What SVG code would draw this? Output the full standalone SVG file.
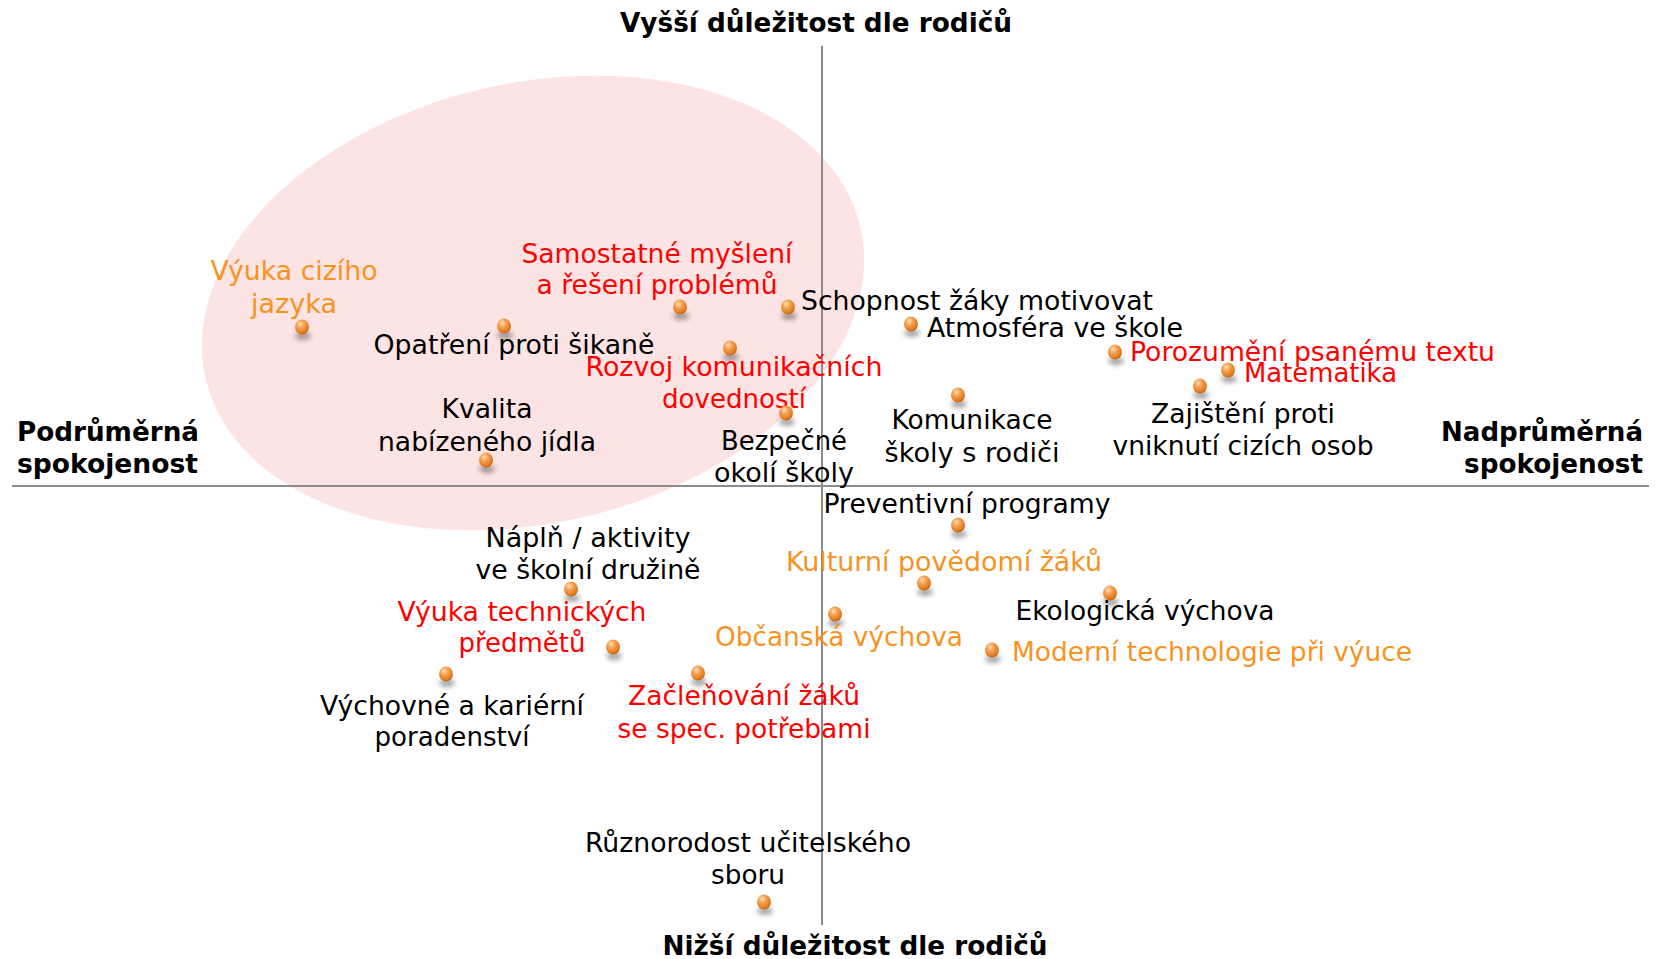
<svg xmlns="http://www.w3.org/2000/svg" width="1659" height="959" viewBox="0 0 1659 959">
<defs>
<radialGradient id="ball" cx="0.38" cy="0.3" r="0.75">
<stop offset="0" stop-color="#FFE2B8"/>
<stop offset="0.35" stop-color="#F5A356"/>
<stop offset="0.8" stop-color="#E07A1E"/>
<stop offset="1" stop-color="#B35A0E"/>
</radialGradient>
<filter id="blur" x="-1" y="-1" width="3" height="3"><feGaussianBlur stdDeviation="2.5"/></filter>
<g id="dot">
<ellipse cx="1" cy="9" rx="8" ry="4" fill="#000" opacity="0.35" filter="url(#blur)"/>
<ellipse cx="0" cy="0" rx="7" ry="7.5" fill="url(#ball)"/>
</g>
</defs>
<style>
text{font-family:"DejaVu Sans","Verdana",sans-serif;font-size:26px;lengthAdjust:spacingAndGlyphs}
.k{fill:#000}
.r{fill:#FF0000}
.o{fill:#F7931E}
.m{text-anchor:middle}
.b{font-weight:bold;fill:#000}
.ax{stroke:#8C8C8C;stroke-width:2}
</style>
<rect width="1659" height="959" fill="#fff"/>
<ellipse id="zone" cx="533" cy="303" rx="336" ry="220" transform="rotate(-13 533 303)" fill="#FCE4E4"/>
<g id="connectors">
<line class="ax" x1="822" y1="46" x2="822" y2="925"/>
<line class="ax" x1="12" y1="486" x2="1649" y2="486"/>
</g>
<g id="axis-labels">
<text class="b m" x="816" y="32" textLength="392" lengthAdjust="spacingAndGlyphs">Vyšší důležitost dle rodičů</text>
<text class="b m" x="855" y="955" textLength="385" lengthAdjust="spacingAndGlyphs">Nižší důležitost dle rodičů</text>
<text class="b" x="17" y="441" textLength="182" lengthAdjust="spacingAndGlyphs">Podrůměrná</text>
<text class="b" x="17" y="473" textLength="181" lengthAdjust="spacingAndGlyphs">spokojenost</text>
<text class="b" x="1643" y="441" text-anchor="end" textLength="202" lengthAdjust="spacingAndGlyphs">Nadprůměrná</text>
<text class="b" x="1643" y="473" text-anchor="end" textLength="179" lengthAdjust="spacingAndGlyphs">spokojenost</text>
</g>
<g id="n1"><use href="#dot" x="302" y="327"/><text class="o m" x="294" y="280" textLength="167" lengthAdjust="spacingAndGlyphs">Výuka cizího</text><text class="o m" x="294" y="313" textLength="86" lengthAdjust="spacingAndGlyphs">jazyka</text></g>
<g id="n2"><use href="#dot" x="504" y="326"/><text class="k m" x="514" y="354" textLength="281" lengthAdjust="spacingAndGlyphs">Opatření proti šikaně</text></g>
<g id="n3"><use href="#dot" x="680" y="307"/><text class="r m" x="657" y="263" textLength="271" lengthAdjust="spacingAndGlyphs">Samostatné myšlení</text><text class="r m" x="657" y="294" textLength="241" lengthAdjust="spacingAndGlyphs">a řešení problémů</text></g>
<g id="n4"><use href="#dot" x="788" y="307"/><text class="k" x="801" y="310" textLength="352" lengthAdjust="spacingAndGlyphs">Schopnost žáky motivovat</text></g>
<g id="n5"><use href="#dot" x="911" y="324"/><text class="k" x="927" y="337" textLength="256" lengthAdjust="spacingAndGlyphs">Atmosféra ve škole</text></g>
<g id="n6"><use href="#dot" x="730" y="348"/><text class="r m" x="734" y="376" textLength="297" lengthAdjust="spacingAndGlyphs">Rozvoj komunikačních</text><text class="r m" x="734" y="408" textLength="144" lengthAdjust="spacingAndGlyphs">dovedností</text></g>
<g id="n7"><use href="#dot" x="786" y="413"/><text class="k m" x="784" y="450" textLength="126" lengthAdjust="spacingAndGlyphs">Bezpečné</text><text class="k m" x="784" y="482" textLength="140" lengthAdjust="spacingAndGlyphs">okolí školy</text></g>
<g id="n8"><use href="#dot" x="486" y="460"/><text class="k m" x="487" y="418" textLength="91" lengthAdjust="spacingAndGlyphs">Kvalita</text><text class="k m" x="487" y="451" textLength="218" lengthAdjust="spacingAndGlyphs">nabízeného jídla</text></g>
<g id="n9"><use href="#dot" x="958" y="395"/><text class="k m" x="972" y="429" textLength="161" lengthAdjust="spacingAndGlyphs">Komunikace</text><text class="k m" x="972" y="462" textLength="175" lengthAdjust="spacingAndGlyphs">školy s rodiči</text></g>
<g id="n10"><use href="#dot" x="1115" y="352"/><text class="r" x="1130" y="361" textLength="365" lengthAdjust="spacingAndGlyphs">Porozumění psanému textu</text></g>
<g id="n11"><use href="#dot" x="1228" y="370"/><text class="r" x="1244" y="382" textLength="153" lengthAdjust="spacingAndGlyphs">Matematika</text></g>
<g id="n12"><use href="#dot" x="1200" y="386"/><text class="k m" x="1243" y="423" textLength="184" lengthAdjust="spacingAndGlyphs">Zajištění proti</text><text class="k m" x="1243" y="455" textLength="261" lengthAdjust="spacingAndGlyphs">vniknutí cizích osob</text></g>
<g id="n13"><use href="#dot" x="958" y="525"/><text class="k m" x="967" y="513" textLength="287" lengthAdjust="spacingAndGlyphs">Preventivní programy</text></g>
<g id="n14"><use href="#dot" x="924" y="583"/><text class="o m" x="944" y="571" textLength="316" lengthAdjust="spacingAndGlyphs">Kulturní povědomí žáků</text></g>
<g id="n15"><use href="#dot" x="1110" y="593"/><text class="k m" x="1145" y="620" textLength="259" lengthAdjust="spacingAndGlyphs">Ekologická výchova</text></g>
<g id="n16"><use href="#dot" x="835" y="614"/><text class="o m" x="839" y="646" textLength="248" lengthAdjust="spacingAndGlyphs">Občanská výchova</text></g>
<g id="n17"><use href="#dot" x="992" y="650"/><text class="o" x="1012" y="661" textLength="400" lengthAdjust="spacingAndGlyphs">Moderní technologie při výuce</text></g>
<g id="n18"><use href="#dot" x="571" y="589"/><text class="k m" x="588" y="547" textLength="205" lengthAdjust="spacingAndGlyphs">Náplň / aktivity</text><text class="k m" x="588" y="579" textLength="225" lengthAdjust="spacingAndGlyphs">ve školní družině</text></g>
<g id="n19"><use href="#dot" x="613" y="647"/><text class="r m" x="522" y="621" textLength="249" lengthAdjust="spacingAndGlyphs">Výuka technických</text><text class="r m" x="522" y="652" textLength="127" lengthAdjust="spacingAndGlyphs">předmětů</text></g>
<g id="n20"><use href="#dot" x="446" y="674"/><text class="k m" x="452" y="715" textLength="264" lengthAdjust="spacingAndGlyphs">Výchovné a kariérní</text><text class="k m" x="452" y="746" textLength="155" lengthAdjust="spacingAndGlyphs">poradenství</text></g>
<g id="n21"><use href="#dot" x="698" y="673"/><text class="r m" x="744" y="705" textLength="232" lengthAdjust="spacingAndGlyphs">Začleňování žáků</text><text class="r m" x="744" y="738" textLength="253" lengthAdjust="spacingAndGlyphs">se spec. potřebami</text></g>
<g id="n22"><use href="#dot" x="764" y="902"/><text class="k m" x="748" y="852" textLength="326" lengthAdjust="spacingAndGlyphs">Různorodost učitelského</text><text class="k m" x="748" y="884" textLength="74" lengthAdjust="spacingAndGlyphs">sboru</text></g>
</svg>
